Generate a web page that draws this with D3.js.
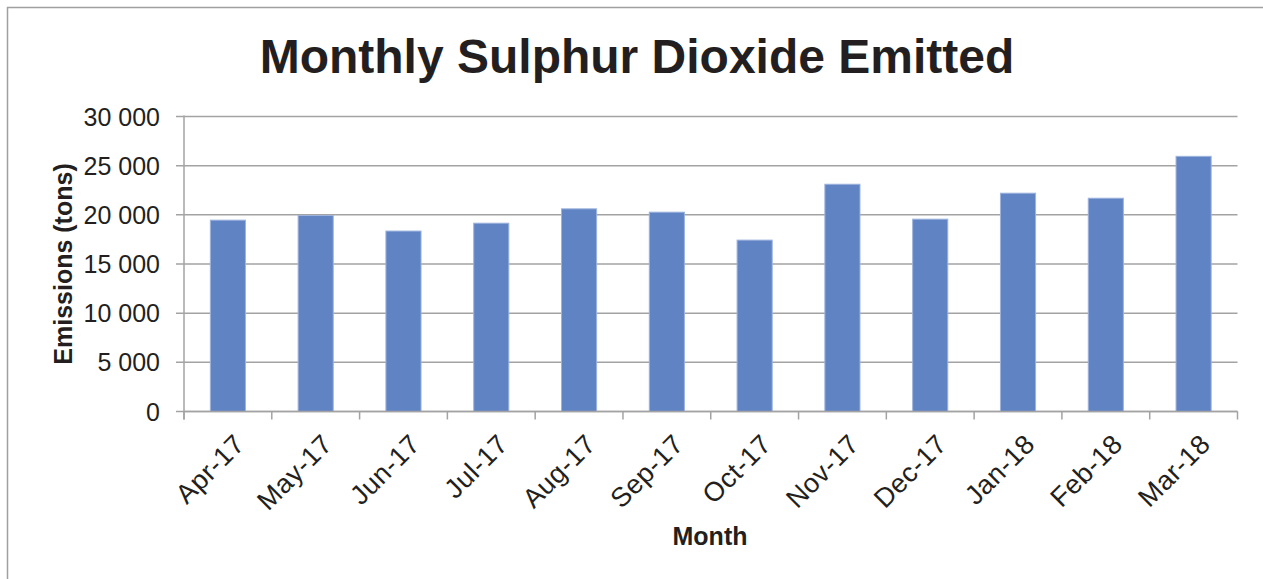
<!DOCTYPE html>
<html>
<head>
<meta charset="utf-8">
<script src="https://cdn.jsdelivr.net/npm/d3@7"></script>
<style>
  html, body { margin: 0; padding: 0; background: #fff; }
  svg { display: block; font-family: "Liberation Sans", Arial, sans-serif; }
</style>
</head>
<body>
<div id="chart"></div>
<script>
// Data
const months = ["Apr-17", "May-17", "Jun-17", "Jul-17", "Aug-17", "Sep-17",
                "Oct-17", "Nov-17", "Dec-17", "Jan-18", "Feb-18", "Mar-18"];
const emissions = [19460, 19930, 18350, 19150, 20610, 20270,
                   17430, 23110, 19560, 22200, 21690, 25950];
const yTicks = [0, 5000, 10000, 15000, 20000, 25000, 30000];

const width = 1263, height = 579;
const margin = { top: 116.5, right: 25.5, bottom: 167.5, left: 184 };
const textColor = "#231f20";
const gridColor = "#a3a3a3";

const svg = d3.select("#chart")
    .append("svg")
    .attr("width", width)
    .attr("height", height);

// outer frame (runs past the right/bottom edge like the original)
svg.append("rect")
    .attr("x", 7.5).attr("y", 7.5)
    .attr("width", width + 20).attr("height", height + 20)
    .attr("fill", "none")
    .attr("stroke", "#a0a0a0")
    .attr("stroke-width", 1.5);

const x = d3.scaleBand()
    .domain(months)
    .range([margin.left, width - margin.right])
    .paddingInner(0.6)
    .paddingOuter(0.3);

const y = d3.scaleLinear()
    .domain([0, 30000])
    .range([height - margin.bottom, margin.top]);

const fmt = v => d3.format(",")(v).replace(/,/g, " ");

// gridlines with ticks sticking out on the left
svg.append("g")
    .selectAll("line")
    .data(yTicks)
    .join("line")
    .attr("x1", margin.left - 8)
    .attr("x2", width - margin.right)
    .attr("y1", d => y(d))
    .attr("y2", d => y(d))
    .attr("stroke", gridColor)
    .attr("stroke-width", 1.5);

// y axis labels
svg.append("g")
    .selectAll("text")
    .data(yTicks)
    .join("text")
    .attr("x", margin.left - 24)
    .attr("y", d => y(d))
    .attr("dy", "0.36em")
    .attr("text-anchor", "end")
    .attr("font-size", 25)
    .attr("fill", textColor)
    .text(fmt);

// bars
svg.append("g")
    .selectAll("rect")
    .data(months)
    .join("rect")
    .attr("x", d => x(d))
    .attr("y", (d, i) => y(emissions[i]))
    .attr("width", x.bandwidth())
    .attr("height", (d, i) => y(0) - y(emissions[i]))
    .attr("fill", "#6083c4")
    .attr("stroke", "#9db3dd")
    .attr("stroke-width", 1);

// y axis line
svg.append("line")
    .attr("x1", margin.left).attr("x2", margin.left)
    .attr("y1", margin.top - 1).attr("y2", y(0) + 8)
    .attr("stroke", gridColor)
    .attr("stroke-width", 1.5);

// x axis line + category boundary ticks
const bounds = months.map(m => x(m) + x.bandwidth() / 2 - x.step() / 2);
bounds.push(width - margin.right);
svg.append("line")
    .attr("x1", margin.left).attr("x2", width - margin.right)
    .attr("y1", y(0)).attr("y2", y(0))
    .attr("stroke", gridColor)
    .attr("stroke-width", 1.5);
svg.append("g")
    .selectAll("line")
    .data(bounds)
    .join("line")
    .attr("x1", d => d).attr("x2", d => d)
    .attr("y1", y(0)).attr("y2", y(0) + 8)
    .attr("stroke", gridColor)
    .attr("stroke-width", 1.5);

// x axis labels, rotated
svg.append("g")
    .selectAll("text")
    .data(months)
    .join("text")
    .attr("transform", d => `translate(${x(d) + x.bandwidth() / 2 + 5},${y(0) + 21}) rotate(-45)`)
    .attr("text-anchor", "end")
    .attr("dy", "0.7em")
    .attr("font-size", 27)
    .attr("letter-spacing", 0.5)
    .attr("fill", textColor)
    .text(d => d);

// title
svg.append("text")
    .attr("x", 637)
    .attr("y", 73)
    .attr("text-anchor", "middle")
    .attr("font-size", 48)
    .attr("font-weight", "bold")
    .attr("fill", textColor)
    .text("Monthly Sulphur Dioxide Emitted");

// axis titles
svg.append("text")
    .attr("x", 710)
    .attr("y", 545)
    .attr("text-anchor", "middle")
    .attr("font-size", 25)
    .attr("font-weight", "bold")
    .attr("fill", textColor)
    .text("Month");

svg.append("text")
    .attr("transform", "translate(72,264) rotate(-90)")
    .attr("text-anchor", "middle")
    .attr("font-size", 25)
    .attr("font-weight", "bold")
    .attr("fill", textColor)
    .text("Emissions (tons)");
</script>
</body>
</html>
